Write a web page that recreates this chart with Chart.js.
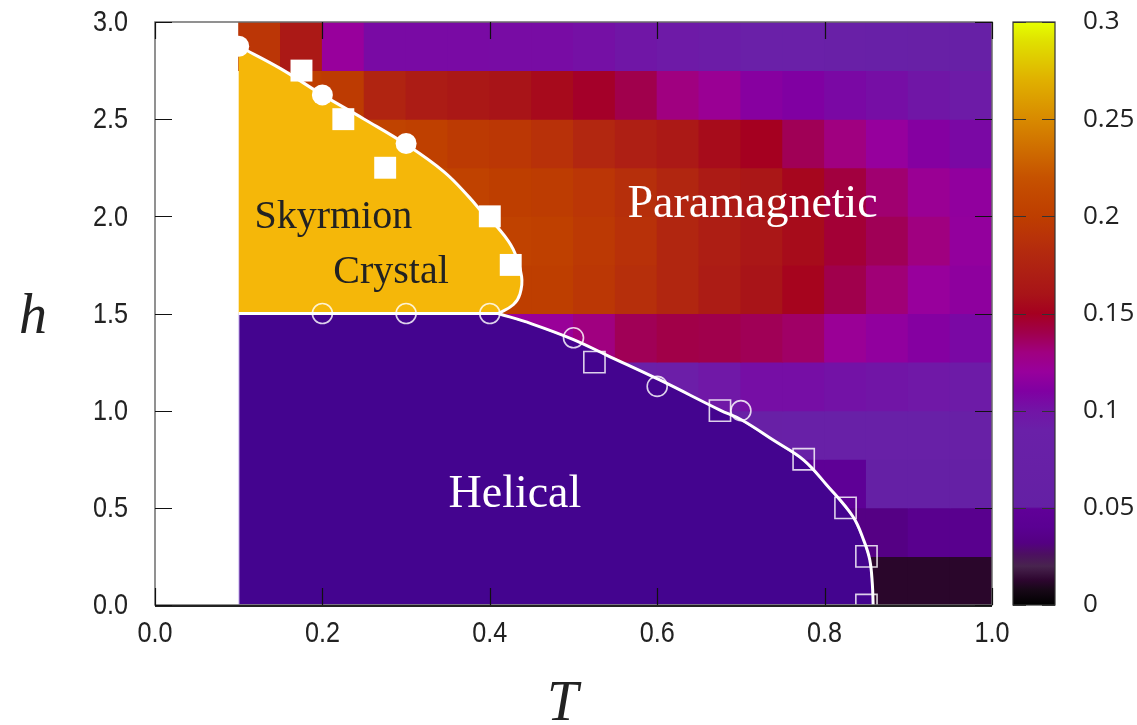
<!DOCTYPE html>
<html>
<head>
<meta charset="utf-8">
<title>Phase diagram T-h</title>
<script src="https://cdn.jsdelivr.net/npm/chart.js@4.4.1/dist/chart.umd.min.js"></script>
<style>
    html, body { margin: 0; padding: 0; background: #fff; }
    #wrap { width: 1137px; height: 725px; }
</style>
</head>
<body>
<div id="wrap"><canvas id="phase" width="1137" height="725"></canvas></div>
<script>
// ========================================
// DATA
// ========================================
// colour map cells: left edge in T, bottom edge in h
const tStarts = [0.10, 0.15, 0.20, 0.25, 0.30, 0.35, 0.40, 0.45, 0.50, 0.55,
                 0.60, 0.65, 0.70, 0.75, 0.80, 0.85, 0.90, 0.95];
const hStarts = [0.00, 0.25, 0.50, 0.75, 1.00, 1.25, 1.50, 1.75, 2.00, 2.25, 2.50, 2.75];
const cellW = 0.05;
const cellH = 0.25;

// one row per h band, null = hidden under a phase region
const _ = null;
const row000 = [_, _, _, _, _, _, _, _, _, _, _, _, _, _, _, 0.012, 0.012, 0.012];
const row025 = [_, _, _, _, _, _, _, _, _, _, _, _, _, _, 0.033, 0.033, 0.038, 0.038];
const row050 = [_, _, _, _, _, _, _, _, _, _, _, _, _, 0.046, 0.046, 0.060, 0.060, 0.060];
const row075 = [_, _, _, _, _, _, _, _, _, _, _, 0.070, 0.075, 0.080, 0.080, 0.078, 0.078, 0.075];
const row100 = [_, _, _, _, _, _, _, _, 0.090, 0.090, 0.092, 0.097, 0.103, 0.103, 0.101, 0.099, 0.097, 0.094];
const row125 = [_, _, _, _, _, _, 0.120, 0.121, 0.130, 0.138, 0.141, 0.140, 0.138, 0.135, 0.122, 0.117, 0.112, 0.106];
const row150 = [_, _, _, _, _, _, 0.200, 0.200, 0.194, 0.186, 0.178, 0.168, 0.160, 0.152, 0.140, 0.132, 0.120, 0.116];
const row175 = [_, _, _, _, _, _, 0.205, 0.202, 0.195, 0.188, 0.178, 0.170, 0.163, 0.156, 0.145, 0.138, 0.130, 0.118];
const row200 = [_, _, _, _, 0.210, 0.205, 0.200, 0.198, 0.193, 0.186, 0.178, 0.167, 0.163, 0.153, 0.143, 0.133, 0.123, 0.117];
const row225 = [_, _, 0.206, 0.206, 0.202, 0.196, 0.194, 0.188, 0.179, 0.171, 0.165, 0.156, 0.150, 0.138, 0.130, 0.119, 0.112, 0.106];
const row250 = [_, 0.200, 0.197, 0.176, 0.168, 0.164, 0.160, 0.155, 0.148, 0.140, 0.130, 0.123, 0.113, 0.110, 0.106, 0.103, 0.098, 0.094];
const row275 = [0.193, 0.165, 0.120, 0.105, 0.105, 0.105, 0.104, 0.104, 0.102, 0.098, 0.095, 0.093, 0.090, 0.090, 0.085, 0.080, 0.075, 0.070];
const heatRows = [row000, row025, row050, row075, row100, row125, row150, row175, row200, row225, row250, row275];

// phase boundaries
const skyEdgeT = [0.100, 0.150, 0.200, 0.250, 0.300, 0.345, 0.375, 0.395, 0.410, 0.428, 0.438, 0.436, 0.428, 0.410];
const skyEdgeH = [2.875, 2.760, 2.625, 2.500, 2.370, 2.230, 2.100, 2.000, 1.940, 1.830, 1.690, 1.600, 1.545, 1.500];
const flatEdgeT = [0.100, 0.410];
const flatEdgeH = [1.500, 1.500];
const helEdgeT = [0.410, 0.450, 0.500, 0.540, 0.603, 0.675, 0.701, 0.740, 0.775, 0.8025, 0.834, 0.847, 0.854, 0.857, 0.858];
const helEdgeH = [1.500, 1.447, 1.366, 1.285, 1.158, 1.003, 0.952, 0.845, 0.746, 0.6175, 0.454, 0.330, 0.232, 0.110, 0.000];

// transition points
const fullCircleT = [0.100, 0.200, 0.300];
const fullCircleH = [2.875, 2.625, 2.375];
const fullSquareT = [0.175, 0.225, 0.275, 0.400, 0.425];
const fullSquareH = [2.750, 2.500, 2.250, 2.000, 1.750];
const openCircleT = [0.200, 0.300, 0.400, 0.500, 0.600, 0.700];
const openCircleH = [1.500, 1.500, 1.500, 1.375, 1.125, 1.000];
const openSquareT = [0.525, 0.675, 0.775, 0.825, 0.850, 0.850];
const openSquareH = [1.250, 1.000, 0.750, 0.500, 0.250, 0.000];

// axes
const xTickVals = [0, 0.2, 0.4, 0.6, 0.8, 1.0];
const xTickLabels = ['0.0', '0.2', '0.4', '0.6', '0.8', '1.0'];
const yTickVals = [0, 0.5, 1.0, 1.5, 2.0, 2.5, 3.0];
const yTickLabels = ['0.0', '0.5', '1.0', '1.5', '2.0', '2.5', '3.0'];
const cbTickVals = [0, 0.05, 0.10, 0.15, 0.20, 0.25, 0.30];
const cbTickLabels = ['0', '0.05', '0.1', '0.15', '0.2', '0.25', '0.3'];

// region names
const regionNames = ['Skyrmion', 'Crystal', 'Paramagnetic', 'Helical'];
const regionT = [0.213, 0.282, 0.714, 0.430];
const regionH = [1.939, 1.657, 1.998, 0.504];

// ========================================
// PALETTE
// ========================================
const palVals = [0, 0.008, 0.013, 0.020, 0.026, 0.032, 0.040, 0.0495, 0.0505, 0.090, 0.100, 0.110,
                 0.120, 0.130, 0.140, 0.150, 0.160, 0.170, 0.180, 0.190, 0.200, 0.210, 0.220, 0.250,
                 0.270, 0.290, 0.300];
const palCols = ['#000000', '#180818', '#2e0630', '#48244e', '#4c1060', '#540082', '#5a0092', '#600098',
                 '#6420a4', '#6a20a8', '#7214a6', '#8000a2', '#98009c', '#a00080', '#a0004c', '#a50020',
                 '#a81418', '#ad1e14', '#b2280f', '#b93308', '#be3e00', '#c24700', '#c65200', '#d88a00',
                 '#e0b000', '#e0e000', '#e6ff00'];

function hexRgb(h) {
    return [parseInt(h.slice(1, 3), 16), parseInt(h.slice(3, 5), 16), parseInt(h.slice(5, 7), 16)];
}

function paletteColor(v) {
    if (v <= palVals[0]) return palCols[0];
    for (let i = 0; i < palVals.length - 1; i++) {
        if (v <= palVals[i + 1]) {
            const f = (v - palVals[i]) / (palVals[i + 1] - palVals[i]);
            const a = hexRgb(palCols[i]), b = hexRgb(palCols[i + 1]);
            const c = a.map((x, k) => Math.round(x + (b[k] - x) * f));
            return `rgb(${c[0]},${c[1]},${c[2]})`;
        }
    }
    return palCols[palCols.length - 1];
}

// ========================================
// BUILD DATASETS
// ========================================
const zip = (ts, hs) => ts.map((t, i) => ({ x: t, y: hs[i] }));

const heatCells = [];
heatRows.forEach((row, r) => {
    row.forEach((v, c) => {
        if (v === null) return;
        heatCells.push({ x: tStarts[c] + cellW / 2, y: [hStarts[r], hStarts[r] + cellH], v: v });
    });
});

// closed outlines of the two ordered phases
const skyShape = [{ x: 0.100, y: 1.500 }].concat(zip(skyEdgeT, skyEdgeH));
const helShape = [{ x: 0.100, y: 0.000 }, { x: 0.100, y: 1.500 }]
    .concat(zip(helEdgeT, helEdgeH), [{ x: 0.100, y: 0.000 }]);

const edgeLine = (data) => ({
    type: 'line', data: data, borderColor: '#ffffff', borderWidth: 3,
    tension: 0.4, pointRadius: 0, fill: false, order: 3
});

// ========================================
// DECORATION PLUGIN (frame, ticks, labels, colour bar)
// ========================================
const phaseDecor = {
    id: 'phaseDecor',
    beforeDraw(chart) {
        const ctx = chart.ctx;
        ctx.save();
        ctx.fillStyle = '#ffffff';
        ctx.fillRect(0, 0, chart.width, chart.height);
        ctx.restore();
    },
    afterDatasetsDraw(chart) {
        const { ctx, chartArea: a } = chart;
        const x = chart.scales.x, y = chart.scales.y, cb = chart.scales.cb;
        ctx.save();

        // region names
        regionNames.forEach((name, i) => {
            const dark = i < 2;
            ctx.font = (dark ? '40px' : '46px') + ' "Liberation Serif", "Times New Roman", serif';
            ctx.fillStyle = dark ? '#222222' : '#ffffff';
            ctx.textAlign = 'center';
            ctx.textBaseline = 'alphabetic';
            ctx.fillText(name, x.getPixelForValue(regionT[i]), y.getPixelForValue(regionH[i]));
        });

        // frame
        ctx.lineWidth = 1.5;
        ctx.strokeStyle = '#6e6e6e';
        ctx.strokeRect(a.left, a.top, a.right - a.left, a.bottom - a.top);
        ctx.strokeStyle = '#222222';
        ctx.lineWidth = 2;
        ctx.beginPath();
        ctx.moveTo(a.left, a.bottom + 1);
        ctx.lineTo(a.right, a.bottom + 1);
        ctx.stroke();

        // inward ticks
        const tl = 17;
        ctx.strokeStyle = '#111111';
        ctx.lineWidth = 1.2;
        ctx.beginPath();
        xTickVals.forEach(v => {
            const px = Math.round(x.getPixelForValue(v)) + 0.5;
            ctx.moveTo(px, a.bottom); ctx.lineTo(px, a.bottom - tl);
            ctx.moveTo(px, a.top); ctx.lineTo(px, a.top + tl);
        });
        yTickVals.forEach(v => {
            const py = Math.round(y.getPixelForValue(v)) + 0.5;
            ctx.moveTo(a.left, py); ctx.lineTo(a.left + tl, py);
            ctx.moveTo(a.right, py); ctx.lineTo(a.right - tl, py);
        });
        ctx.stroke();

        // tick labels (narrow face)
        ctx.fillStyle = '#222222';
        ctx.font = '30px "Liberation Sans", Arial, sans-serif';
        ctx.textBaseline = 'middle';
        xTickVals.forEach((v, i) => {
            ctx.save();
            ctx.translate(x.getPixelForValue(v), a.bottom + 29);
            ctx.scale(0.84, 1);
            ctx.textAlign = 'center';
            ctx.fillText(xTickLabels[i], 0, 0);
            ctx.restore();
        });
        yTickVals.forEach((v, i) => {
            ctx.save();
            ctx.translate(a.left - 27, y.getPixelForValue(v) + 1);
            ctx.scale(0.84, 1);
            ctx.textAlign = 'right';
            ctx.fillText(yTickLabels[i], 0, 0);
            ctx.restore();
        });

        // axis titles
        ctx.font = 'italic 56px "Liberation Serif", "Times New Roman", serif';
        ctx.textAlign = 'center';
        ctx.textBaseline = 'alphabetic';
        ctx.fillText('h', a.left - 122, y.getPixelForValue(1.5) + 19);
        ctx.fillText('T', x.getPixelForValue(0.487), a.bottom + 115);

        // colour bar
        const bl = a.right + 21, bw = 42;
        const bTop = cb.getPixelForValue(0.3), bBot = cb.getPixelForValue(0);
        const grad = ctx.createLinearGradient(0, bBot, 0, bTop);
        palVals.forEach((v, i) => grad.addColorStop(v / 0.3, palCols[i]));
        ctx.fillStyle = grad;
        ctx.fillRect(bl, bTop, bw, bBot - bTop);
        ctx.strokeStyle = '#333333';
        ctx.lineWidth = 1.2;
        ctx.strokeRect(bl, bTop, bw, bBot - bTop);
        ctx.beginPath();
        cbTickVals.forEach(v => {
            const py = Math.round(cb.getPixelForValue(v)) + 0.5;
            ctx.moveTo(bl, py); ctx.lineTo(bl + 13, py);
            ctx.moveTo(bl + bw, py); ctx.lineTo(bl + bw - 13, py);
        });
        ctx.stroke();
        ctx.fillStyle = '#222222';
        ctx.font = '26px "Open Sans", "DejaVu Sans", sans-serif';
        ctx.textAlign = 'left';
        ctx.textBaseline = 'middle';
        cbTickVals.forEach((v, i) => {
            ctx.fillText(cbTickLabels[i], bl + 70, cb.getPixelForValue(v));
        });

        ctx.restore();
    }
};

// ========================================
// CHART
// ========================================
const chart = new Chart(document.getElementById('phase'), {
    type: 'bar',
    data: {
        datasets: [
            {
                type: 'scatter', data: zip(fullCircleT, fullCircleH),
                pointStyle: 'circle', pointRadius: 10.5, backgroundColor: '#ffffff',
                borderWidth: 0, order: 1, clip: 0
            },
            {
                type: 'scatter', data: zip(fullSquareT, fullSquareH),
                pointStyle: 'rect', pointRadius: 15.5, backgroundColor: '#ffffff',
                borderWidth: 0, order: 1, clip: 0
            },
            {
                type: 'scatter', data: zip(openCircleT, openCircleH),
                pointStyle: 'circle', pointRadius: 10, backgroundColor: 'rgba(0,0,0,0)',
                borderColor: 'rgba(255,255,255,0.82)', borderWidth: 1.6, order: 1, clip: 0
            },
            {
                type: 'scatter', data: zip(openSquareT, openSquareH),
                pointStyle: 'rect', pointRadius: 15, backgroundColor: 'rgba(0,0,0,0)',
                borderColor: 'rgba(255,255,255,0.82)', borderWidth: 1.6, order: 1, clip: 0
            },
            edgeLine(zip(skyEdgeT, skyEdgeH)),
            edgeLine(zip(flatEdgeT, flatEdgeH)),
            edgeLine(zip(helEdgeT, helEdgeH)),
            {
                type: 'line', data: skyShape, fill: 'shape', backgroundColor: '#f5b709',
                borderWidth: 0, pointRadius: 0, tension: 0, order: 5
            },
            {
                type: 'line', data: helShape, fill: 'shape', backgroundColor: '#44048f',
                borderColor: 'rgba(225,215,250,0.8)', borderWidth: 1.5,
                pointRadius: 0, tension: 0, order: 6
            },
            {
                type: 'bar', data: heatCells,
                backgroundColor: c => paletteColor(c.raw.v),
                borderWidth: 0, inflateAmount: 0.5,
                barPercentage: 1, categoryPercentage: 1, order: 10
            }
        ]
    },
    options: {
        responsive: false,
        animation: false,
        events: [],
        layout: { padding: { left: 155, right: 145, top: 22, bottom: 120 } },
        plugins: { legend: { display: false }, tooltip: { enabled: false } },
        scales: {
            x: { type: 'linear', min: 0, max: 1, offset: false, display: false, ticks: { stepSize: 0.2 } },
            y: { type: 'linear', min: 0, max: 3, display: false, ticks: { stepSize: 0.5 } },
            cb: { type: 'linear', position: 'right', min: 0, max: 0.3, display: false }
        }
    },
    plugins: [phaseDecor]
});
</script>
</body>
</html>
